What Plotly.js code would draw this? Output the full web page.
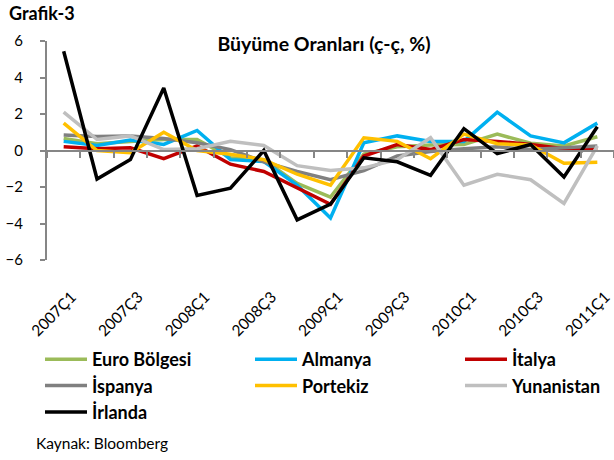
<!DOCTYPE html>
<html>
<head>
<meta charset="utf-8">
<script src="https://cdn.plot.ly/plotly-3.0.1.min.js"></script>
<style>html,body{margin:0;padding:0;background:#fff;}#chart{width:614px;height:460px;}</style>
</head>
<body>
<div id="chart"></div>
<script>
const quarters = ['2007Ç1','2007Ç2','2007Ç3','2007Ç4','2008Ç1','2008Ç2','2008Ç3','2008Ç4','2009Ç1','2009Ç2','2009Ç3','2009Ç4','2010Ç1','2010Ç2','2010Ç3','2010Ç4','2011Ç1'];
const tickLabels = ['2007Ç1','2007Ç3','2008Ç1','2008Ç3','2009Ç1','2009Ç3','2010Ç1','2010Ç3','2011Ç1'];

const euroBolgesi = [0.66,0.37,0.5,0.6,0.6,-0.4,-0.5,-1.8,-2.55,-0.2,0.2,0.3,0.33,0.9,0.4,0.25,0.75];
const almanya     = [0.5,0.28,0.57,0.33,1.1,-0.5,-0.6,-1.9,-3.7,0.42,0.8,0.5,0.5,2.1,0.8,0.42,1.5];
const italya      = [0.2,0.1,0.15,-0.45,0.25,-0.75,-1.15,-2.05,-2.95,-0.3,0.33,0.05,0.6,0.5,0.33,0.1,0.1];
const ispanya     = [0.85,0.77,0.8,0.66,0.42,0.05,-0.62,-1.15,-1.6,-1.1,-0.3,-0.05,0.1,0.2,0.05,0.15,0.25];
const portekiz    = [1.5,0,-0.12,1.0,0,-0.2,-0.5,-1.3,-1.9,0.7,0.5,-0.45,0.9,0.37,0.3,-0.7,-0.65];
const yunanistan  = [2.1,0.6,0.8,0.05,0.1,0.5,0.28,-0.83,-1.1,-0.95,-0.5,0.7,-1.9,-1.3,-1.6,-2.9,0.25];
const irlanda     = [5.44,-1.56,-0.5,3.42,-2.46,-2.06,0,-3.8,-2.94,-0.4,-0.62,-1.36,1.2,-0.17,0.33,-1.45,1.3];

const seriesNames = ['Euro Bölgesi','Almanya','İtalya','İspanya','Portekiz','Yunanistan','İrlanda'];
const seriesValues = [euroBolgesi, almanya, italya, ispanya, portekiz, yunanistan, irlanda];
const seriesColors = ['#9BBB59','#00B0F0','#C00000','#808080','#FFC000','#BFBFBF','#000000'];
const legendColumn = ['legend','legend2','legend3','legend','legend2','legend3','legend'];

const FONT = 'Lato, "Open Sans", sans-serif';

const traces = seriesNames.map((n, i) => ({
  type: 'scatter', mode: 'lines', name: n,
  x: quarters, y: seriesValues[i],
  line: {color: seriesColors[i], width: 3.5},
  xaxis: 'x', yaxis: 'y', legend: legendColumn[i]
}));
// empty helper trace so that the labelled bottom category axis (x2) is drawn
traces.unshift({
  type: 'scatter', mode: 'lines', x: quarters, y: quarters.map(() => null),
  xaxis: 'x2', yaxis: 'y', showlegend: false, hoverinfo: 'skip'
});

// plot area geometry (px)
const L = 47, R = 0, T = 41, B = 200, W = 614, H = 460;
const pw = W - L - R, ph = H - T - B;
const px = v => (v - L) / pw;
const py = v => (H - B - v) / ph;

const legendFont = {family: FONT, size: 18, weight: 'bold', color: '#000'};
const mkLegend = xPix => ({
  orientation: 'v', x: px(xPix), xanchor: 'left', y: py(341), yanchor: 'top',
  font: legendFont, itemwidth: 42, traceorder: 'normal', bgcolor: 'rgba(0,0,0,0)'
});

const layout = {
  width: W, height: H,
  margin: {l: L, r: R, t: T, b: B},
  paper_bgcolor: '#fff', plot_bgcolor: '#fff',
  font: {family: FONT, color: '#000'},
  showlegend: true,
  title: {text: 'Büyüme Oranları (ç-ç, %)', font: {family: FONT, size: 19.5, weight: 'bold', color: '#000'},
          x: 324 / W, xanchor: 'center', xref: 'container', y: 1 - 44 / H, yanchor: 'middle', yref: 'container'},
  xaxis: {
    type: 'category', categoryarray: quarters, categoryorder: 'array', range: [-0.5, 16.5],
    anchor: 'free', position: 0.5,
    showline: true, linecolor: '#868686', linewidth: 2,
    ticks: 'outside', tickson: 'boundaries', ticklen: 6, tickwidth: 2, tickcolor: '#868686',
    tickmode: 'linear', tick0: 0, dtick: 1,
    showticklabels: false, showgrid: false, zeroline: false, fixedrange: true
  },
  xaxis2: {
    type: 'category', categoryarray: quarters, categoryorder: 'array', range: [-0.5, 16.5],
    overlaying: 'x', anchor: 'y', side: 'bottom',
    tickmode: 'array', tickvals: tickLabels, ticktext: tickLabels,
    tickangle: -45, tickfont: {family: FONT, size: 15.5, color: '#000'},
    showline: false, ticks: '', showgrid: false, zeroline: false,
    ticklabelstandoff: 24, ticklabelshift: 8
  },
  yaxis: {
    range: [-6, 6], tickmode: 'linear', tick0: -6, dtick: 2,
    showline: true, linecolor: '#868686', linewidth: 2,
    ticks: 'outside', ticklen: 5, tickwidth: 2, tickcolor: '#868686',
    showgrid: false, zeroline: false,
    tickfont: {family: FONT, size: 15, color: '#000'}, ticklabelstandoff: 14
  },
  legend: mkLegend(40),
  legend2: mkLegend(250),
  legend3: mkLegend(460),
  annotations: [
    {text: 'Grafik-3', xref: 'paper', yref: 'paper', x: px(7), y: py(13), xanchor: 'left', yanchor: 'middle',
     showarrow: false, font: {family: FONT, size: 18, weight: 'bold', color: '#000'}},
    {text: 'Kaynak: Bloomberg', xref: 'paper', yref: 'paper', x: px(34), y: py(443), xanchor: 'left', yanchor: 'middle',
     showarrow: false, font: {family: FONT, size: 15.5, color: '#000'}}
  ]
};

Plotly.newPlot('chart', traces, layout, {displayModeBar: false, staticPlot: true});
</script>
</body>
</html>
